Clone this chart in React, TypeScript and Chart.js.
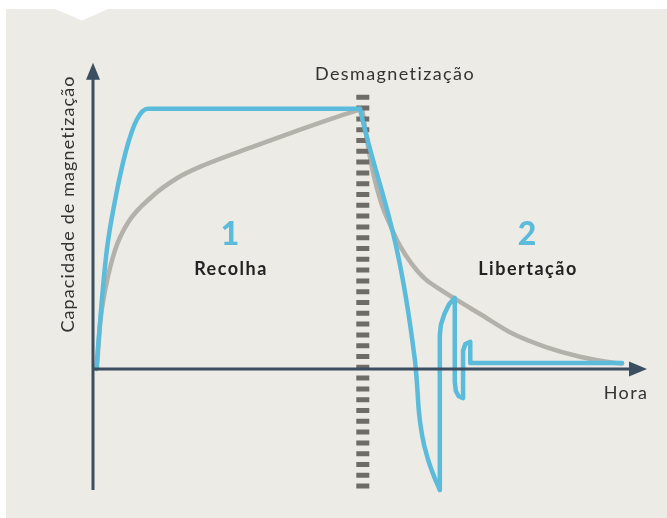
import React, { useEffect, useRef } from "react";
import { Chart, registerables } from "chart.js";

Chart.register(...registerables);

// Time axis (arbitrary units 0..100) and magnetisation capacity (0 = baseline, 100 = saturation)
const blueRiseX = [0.6, 1.6, 2.5, 4.0, 6.0, 7.9, 9.9, 48.2];
const blueRiseY = [0, 26.5, 45.8, 65, 84.2, 95.8, 100, 100];

const blueDropX = [48.2, 58.1, 58.5, 58.8, 59.4, 60.5, 61.6, 62.6];
const blueDropY = [100, 3.5, -6.2, -15.8, -25.4, -35, -41.5, -46.5];

const blueRingX = [62.6, 62.6, 62.8, 63.4, 64.3, 65.3, 65.3, 65.5, 66.0, 66.8, 66.8, 67.2, 68.1, 68.1, 95.5];
const blueRingY = [-46.5, 13, 17, 21, 25, 27.3, -5, -8.5, -10.5, -11.2, 7, 9.6, 10.4, 2.3, 2.3];

const grayRiseX = [0.7, 1.3, 2.2, 4.0, 6.3, 10.6, 15.3, 20.2, 28.3, 37.4, 44.6, 48.6];
const grayRiseY = [0, 17.7, 30.4, 45.8, 56.2, 66.2, 73.5, 78.5, 85, 92, 97.3, 100];

const grayFallX = [48.6, 49.3, 50.5, 52.0, 53.6, 55.5, 57.5, 60.0, 62.5, 65.3, 69.8, 75.8, 81.9, 87.9, 93.9, 95.5];
const grayFallY = [100, 90, 76, 64, 55.5, 47, 40.5, 34.5, 30.8, 27.0, 21.2, 13.5, 8.3, 4.7, 2.4, 2.1];

const demagX = [48.7, 48.7];
const demagY = [105.4, -46.5];

const axisMin = -46.5;
const axisTopY = 117.7;
const axisRightX = 100;

const labelTop = "Desmagnetização";
const labelX = "Hora";
const labelY = "Capacidade de magnetização";
const phaseNumbers = ["1", "2"];
const phaseNames = ["Recolha", "Libertação"];

const BLUE = "#5bbbdb";
const GRAY = "#b3b1aa";
const AXIS = "#3b4f60";
const PANEL = "#ecebe5";

const pts = (xs: number[], ys: number[]) => xs.map((x, i) => ({ x, y: ys[i] }));

const decor = {
  id: "decor",
  beforeDraw(chart: any) {
    const ctx = chart.ctx;
    ctx.save();
    ctx.fillStyle = "#ffffff";
    ctx.fillRect(0, 0, chart.width, chart.height);
    ctx.fillStyle = PANEL;
    ctx.fillRect(6, 9, chart.width - 6, chart.height - 9);
    ctx.fillStyle = "#ffffff";
    ctx.beginPath();
    ctx.moveTo(55, 9);
    ctx.lineTo(82, 20.5);
    ctx.lineTo(108, 9);
    ctx.closePath();
    ctx.fill();
    ctx.restore();
  },
  afterDatasetsDraw(chart: any) {
    const ctx = chart.ctx;
    const xs = chart.scales.x;
    const ys = chart.scales.y;
    const x0 = xs.getPixelForValue(0);
    const y0 = ys.getPixelForValue(0);
    const yBottom = ys.getPixelForValue(axisMin);
    const yTop = ys.getPixelForValue(axisTopY);
    const xRight = xs.getPixelForValue(axisRightX);
    ctx.save();
    ctx.strokeStyle = AXIS;
    ctx.fillStyle = AXIS;
    ctx.lineWidth = 3;
    ctx.beginPath();
    ctx.moveTo(x0, yBottom);
    ctx.lineTo(x0, yTop + 10);
    ctx.moveTo(x0, y0);
    ctx.lineTo(xRight - 10, y0);
    ctx.stroke();
    ctx.beginPath();
    ctx.moveTo(x0, yTop);
    ctx.lineTo(x0 - 7, yTop + 17);
    ctx.lineTo(x0 + 7, yTop + 17);
    ctx.closePath();
    ctx.fill();
    ctx.beginPath();
    ctx.moveTo(xRight, y0);
    ctx.lineTo(xRight - 18, y0 - 7.5);
    ctx.lineTo(xRight - 18, y0 + 7.5);
    ctx.closePath();
    ctx.fill();

    ctx.fillStyle = "#333333";
    ctx.textAlign = "center";
    ctx.textBaseline = "middle";
    ctx.font = "400 18px Lato, 'Open Sans', sans-serif";
    (ctx as any).letterSpacing = "1.4px";
    ctx.fillText(labelTop, 395, 74);
    ctx.fillText(labelX, 626, 393);
    (ctx as any).letterSpacing = "1.1px";
    ctx.save();
    ctx.translate(68, 204);
    ctx.rotate(-Math.PI / 2);
    ctx.fillText(labelY, 0, 0);
    ctx.restore();

    const centers = [230, 527];
    for (let i = 0; i < 2; i++) {
      ctx.fillStyle = BLUE;
      (ctx as any).letterSpacing = "0px";
      ctx.font = "900 32px Lato, sans-serif";
      ctx.fillText(phaseNumbers[i], centers[i], 235);
      ctx.fillStyle = "#222222";
      (ctx as any).letterSpacing = "1.5px";
      ctx.font = "700 18px Lato, sans-serif";
      ctx.fillText(phaseNames[i], centers[i] + 1, 269);
    }
    (ctx as any).letterSpacing = "0px";
    ctx.restore();
  },
};

export default function App() {
  const ref = useRef<HTMLCanvasElement>(null);
  useEffect(() => {
    if (!ref.current) return;
    const blueBase = {
      borderColor: BLUE,
      borderWidth: 4.5,
      pointRadius: 0,
      borderJoinStyle: "round",
      borderCapStyle: "round",
      clip: false,
    };
    const grayBase = {
      borderColor: GRAY,
      borderWidth: 4.5,
      pointRadius: 0,
      cubicInterpolationMode: "monotone",
      borderCapStyle: "round",
      clip: false,
    };
    const chart = new Chart(ref.current, {
      type: "line",
      data: {
        datasets: [
          { ...blueBase, data: pts(blueRiseX, blueRiseY), cubicInterpolationMode: "monotone" } as any,
          { ...blueBase, data: pts(blueDropX, blueDropY), cubicInterpolationMode: "monotone" } as any,
          { ...blueBase, data: pts(blueRingX, blueRingY), tension: 0 } as any,
          {
            data: pts(demagX, demagY),
            borderColor: "#6f6b67",
            borderWidth: 13,
            borderDash: [5, 5.8],
            borderCapStyle: "butt",
            pointRadius: 0,
            clip: false,
          } as any,
          { ...grayBase, data: pts(grayRiseX, grayRiseY) } as any,
          { ...grayBase, data: pts(grayFallX, grayFallY) } as any,
        ],
      },
      options: {
        animation: false,
        responsive: false,
        devicePixelRatio: 1,
        layout: { padding: { left: 93, right: 20, top: 62, bottom: 19 } },
        plugins: { legend: { display: false }, tooltip: { enabled: false }, title: { display: false } },
        scales: {
          x: { type: "linear", min: 0, max: 100, display: false },
          y: { type: "linear", min: -50, max: 118, display: false },
        },
      },
      plugins: [decor],
    });
    return () => chart.destroy();
  }, []);
  return (
    <div style={{ position: "absolute", left: 0, top: 0, width: 667, height: 518 }}>
      <canvas ref={ref} width={667} height={518} style={{ display: "block" }} />
    </div>
  );
}
